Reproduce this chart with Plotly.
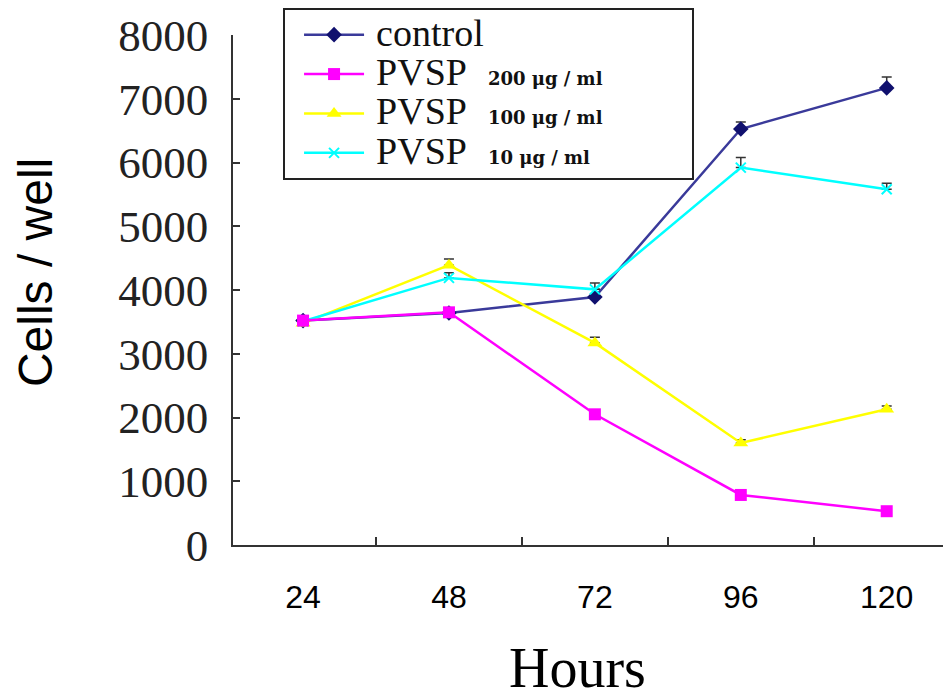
import plotly.graph_objects as go

hours = ["24", "48", "72", "96", "120"]
control = [3520, 3640, 3890, 6525, 7170]
pvsp200 = [3520, 3650, 2050, 785, 530]
pvsp100 = [3480, 4390, 3170, 1600, 2130]
pvsp10 = [3510, 4190, 4010, 5920, 5580]

err_control = [20, 40, 120, 110, 170]
err_200 = [10, 20, 30, 20, 20]
err_100 = [30, 95, 90, 50, 50]
err_10 = [20, 80, 100, 160, 95]

yticks = [0, 1000, 2000, 3000, 4000, 5000, 6000, 7000, 8000]

PAD = "&nbsp;" * 12

def label(conc):
    return ("&nbsp;<span style='font-size:38px'>PVSP</span>&nbsp;&nbsp;&nbsp;"
            "<span style='font-family:DejaVu Serif;font-size:18px'><b>"
            + conc + "</b></span>" + PAD)

def err(vals):
    return dict(type="data", array=vals, arrayminus=[0] * len(vals), symmetric=False,
                color="#333333", thickness=1.5, width=5)

fig = go.Figure()
fig.add_trace(go.Scatter(x=hours, y=control,
                         name="&nbsp;<span style='font-size:38px'>control</span>", legendrank=1,
                         mode="lines+markers", line=dict(color="#3a3a9a", width=2.5),
                         marker=dict(symbol="diamond", size=12, color="#10106e"),
                         error_y=err(err_control)))
fig.add_trace(go.Scatter(x=hours, y=pvsp100, name=label("100 μg / ml"), legendrank=3,
                         mode="lines+markers", line=dict(color="#ffff00", width=2.5),
                         marker=dict(symbol="triangle-up", size=13, color="#ffff00"),
                         error_y=err(err_100)))
fig.add_trace(go.Scatter(x=hours, y=pvsp10, name=label("10 μg / ml"), legendrank=4,
                         mode="lines+markers", line=dict(color="#00ffff", width=2.5),
                         marker=dict(symbol="x-thin", size=10, color="#00ffff",
                                     line=dict(color="#00ffff", width=2)),
                         error_y=err(err_10)))
fig.add_trace(go.Scatter(x=hours, y=pvsp200, name=label("200 μg / ml"), legendrank=2,
                         mode="lines+markers", line=dict(color="#ff00ff", width=2.5),
                         marker=dict(symbol="square", size=12, color="#ff00ff"),
                         error_y=err(err_200)))

fig.update_layout(
    width=943, height=692,
    margin=dict(l=225, r=3, t=27, b=155, autoexpand=False),
    paper_bgcolor="white", plot_bgcolor="white",
    showlegend=True,
    legend=dict(x=0.07, y=1.053, xanchor="left", yanchor="top",
                bgcolor="white", bordercolor="#222222", borderwidth=2,
                font=dict(family="Liberation Serif", size=28, color="#111111"),
                itemwidth=60, tracegroupgap=0, indentation=14),
    xaxis=dict(type="category", range=[-0.48, 4.42], automargin=False,
               showline=True, linecolor="#333333", linewidth=1.5,
               ticks="inside", tickson="boundaries", ticklen=8, tickcolor="#333333",
               tickwidth=1.5, showgrid=False, zeroline=False,
               tickfont=dict(family="Liberation Sans", size=32, color="black"),
               ticklabelstandoff=23),
    yaxis=dict(range=[0, 8000], tickvals=yticks, automargin=False,
               showline=True, linecolor="#333333", linewidth=1.5,
               ticks="inside", ticklen=7, tickcolor="#333333", tickwidth=1.5,
               showgrid=False, zeroline=False,
               tickfont=dict(family="Liberation Serif", size=45, color="#222222"),
               ticklabelstandoff=14),
    annotations=[
        dict(text="Hours", xref="paper", yref="paper", x=0.4825, y=-0.241,
             xanchor="center", yanchor="middle", showarrow=False,
             font=dict(family="Liberation Serif", size=56, color="black")),
        dict(text="Cells / well", xref="paper", yref="paper", x=-0.277, y=0.535,
             xanchor="center", yanchor="middle", showarrow=False, textangle=-90,
             font=dict(family="Liberation Sans", size=48, color="black")),
    ],
)

fig.write_html("out.html")
